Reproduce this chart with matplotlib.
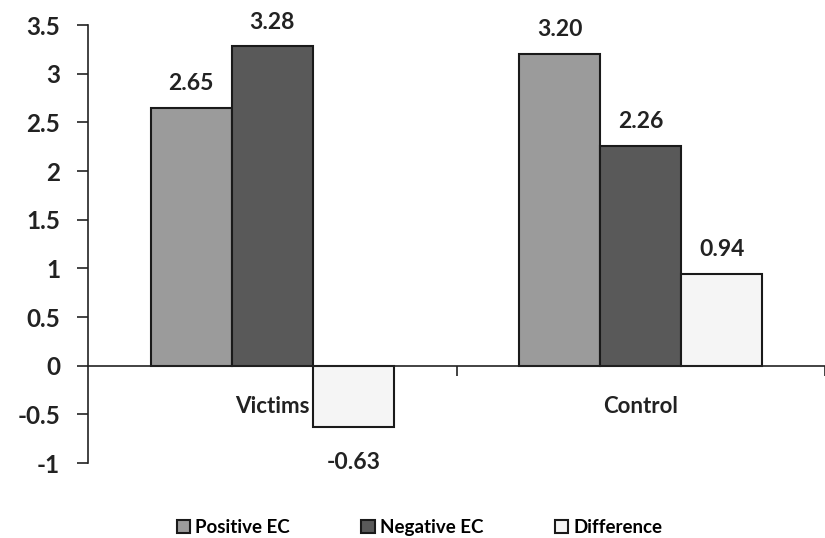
import numpy as np
import matplotlib.pyplot as plt

groups = ['Victims', 'Control']
series = ['Positive EC', 'Negative EC', 'Difference']
positive = [2.65, 3.20]
negative = [3.28, 2.26]
difference = [-0.63, 0.94]
colors = ['#9b9b9b', '#595959', '#f5f5f5']

plt.rcParams['font.family'] = ['Lato', 'DejaVu Sans']
plt.rcParams['font.weight'] = 'bold'

fig = plt.figure(figsize=(8.25, 5.38), dpi=100)
ax = fig.add_axes([0.1067, 0.1394, 0.8933, 0.8141])

x = np.arange(len(groups))
w = 0.22
for i, (vals, name) in enumerate(zip([positive, negative, difference], series)):
    bars = ax.bar(x + (i - 1) * w, vals, w, color=colors[i], edgecolor='#1a1a1a',
                  linewidth=1.5, label=name, zorder=2)
    for b, v in zip(bars, vals):
        top = v >= 0
        ax.annotate('%.2f' % v, (b.get_x() + b.get_width() / 2, v),
                    xytext=(0, 10 if top else -18), textcoords='offset points',
                    ha='center', va='bottom' if top else 'top',
                    fontsize=16.5, fontweight='bold', color='#222222')

ax.set_xlim(-0.5, 1.44)
ax.set_ylim(-1, 3.5)
ax.set_yticks(np.arange(-1, 3.51, 0.5))
ax.set_yticklabels(['%g' % t for t in np.arange(-1, 3.51, 0.5)])
ax.tick_params(axis='y', labelsize=17.5, length=8, width=1.2, pad=12, colors='#222222')

ax.spines['top'].set_visible(False)
ax.spines['right'].set_visible(False)
ax.spines['bottom'].set_position(('data', 0))
ax.spines['left'].set_linewidth(1.2)
ax.spines['bottom'].set_linewidth(1.2)
ax.spines['left'].set_color('#222222')
ax.spines['bottom'].set_color('#222222')

ax.set_xticks(x)
ax.set_xticklabels(groups)
ax.set_xticks([0.5, 1.5], minor=True)
ax.tick_params(axis='x', which='major', length=0, pad=22, labelsize=16, colors='#222222')
ax.tick_params(axis='x', which='minor', length=7, width=1.2, color='#222222')

ax.legend(loc='upper center', bbox_to_anchor=(0.45, -0.09), ncol=3, frameon=False,
          fontsize=13.5, handlelength=0.7, handleheight=0.7, handletextpad=0.3,
          columnspacing=3.8)

fig.savefig('out.png', dpi=100)
